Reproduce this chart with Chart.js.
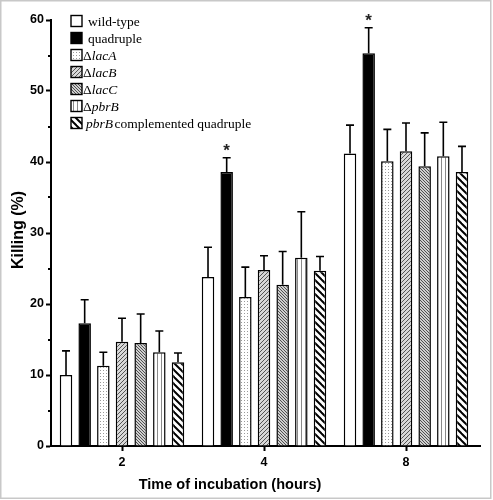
<!DOCTYPE html>
<html>
<head>
<meta charset="utf-8">
<script src="https://cdn.jsdelivr.net/npm/chart.js@4.4.1/dist/chart.umd.min.js"></script>
<style>
  html, body { margin: 0; padding: 0; background: #ffffff; }
  #wrap { position: relative; width: 493px; height: 500px; }
  canvas { display: block; }
</style>
</head>
<body>
<div id="wrap"><canvas id="c" width="493" height="500"></canvas></div>
<script>
// ---------- DATA ----------
const categories = ["2", "4", "8"];
const seriesNames = ["wild-type", "quadruple", "ΔlacA", "ΔlacB", "ΔlacC", "ΔpbrB", "pbrB complemented quadruple"];
const wildType      = [10.0, 23.8, 41.2];
const quadruple     = [17.3, 38.6, 55.3];
const lacA          = [11.3, 21.0, 40.1];
const lacB          = [14.7, 24.8, 41.5];
const lacC          = [14.5, 22.7, 39.4];
const pbrB          = [13.2, 26.5, 40.8];
const complemented  = [11.8, 24.7, 38.6];
const errWildType     = [3.4, 4.2, 4.0];
const errQuadruple    = [3.3, 2.0, 3.6];
const errLacA         = [1.9, 4.2, 4.5];
const errLacB         = [3.3, 2.0, 4.0];
const errLacC         = [4.1, 4.7, 4.7];
const errPbrB         = [3.0, 6.5, 4.8];
const errComplemented = [1.3, 2.0, 3.6];
const quadrupleMarks  = ["", "*", "*"];
const yTicks = [0, 10, 20, 30, 40, 50, 60];

// ---------- PATTERNS ----------
function tile(n, draw) {
  const c = document.createElement('canvas');
  c.width = n; c.height = n;
  const g = c.getContext('2d');
  g.fillStyle = '#ffffff'; g.fillRect(0, 0, n, n);
  draw(g, n);
  return document.getElementById('c').getContext('2d').createPattern(c, 'repeat');
}
function diag(g, n, dir, color, w) {
  g.strokeStyle = color; g.lineWidth = w;
  for (const off of [-n, 0, n]) {
    g.beginPath();
    if (dir === '\\') { g.moveTo(off - 1, -1); g.lineTo(off + n + 1, n + 1); }
    else { g.moveTo(off - 1, n + 1); g.lineTo(off + n + 1, -1); }
    g.stroke();
  }
}
const patDots = tile(3, (g) => { g.fillStyle = '#9a9a9a'; g.fillRect(1, 1, 1, 1); });
const patLacB = tile(4, (g, n) => { g.fillStyle = '#d8d8d8'; g.fillRect(0,0,n,n); diag(g, n, '/', '#555555', 1); });
const patLacC = tile(3, (g, n) => { g.fillStyle = '#cfcfcf'; g.fillRect(0,0,n,n); diag(g, n, '\\', '#505050', 1); });
const patPbrB = tile(4, (g) => { g.fillStyle = '#8a8a8a'; g.fillRect(1, 0, 1, 4); });
const patComp = tile(7, (g, n) => { diag(g, n, '\\', '#000000', 2); });

const fills = ['#ffffff', '#000000', patDots, patLacB, patLacC, patPbrB, patComp];
const values = [wildType, quadruple, lacA, lacB, lacC, pbrB, complemented];
const errors = [errWildType, errQuadruple, errLacA, errLacB, errLacC, errPbrB, errComplemented];

const datasets = values.map((v, i) => ({
  label: seriesNames[i],
  data: v,
  backgroundColor: fills[i],
  borderColor: '#000000',
  borderWidth: 1.5,
  categoryPercentage: 0.92,
  barPercentage: 0.67
}));

// ---------- PLUGINS ----------
const decor = {
  id: 'decor',
  beforeDraw(chart) {
    const ctx = chart.ctx;
    ctx.save();
    ctx.fillStyle = '#ffffff';
    ctx.fillRect(0, 0, chart.width, chart.height);
    ctx.strokeStyle = '#c8c8c8';
    ctx.lineWidth = 1.5;
    ctx.strokeRect(0.75, 0.75, 490, 497.5);
    ctx.restore();
  },
  afterDatasetsDraw(chart) {
    const ctx = chart.ctx;
    const y = chart.scales.y;
    ctx.save();
    ctx.strokeStyle = '#000000';
    ctx.lineWidth = 1.6;
    chart.data.datasets.forEach((ds, di) => {
      const meta = chart.getDatasetMeta(di);
      meta.data.forEach((bar, k) => {
        const top = y.getPixelForValue(values[di][k] + errors[di][k]);
        const base = y.getPixelForValue(values[di][k]);
        ctx.beginPath();
        ctx.moveTo(bar.x, base);
        ctx.lineTo(bar.x, top);
        ctx.moveTo(bar.x - 4, top);
        ctx.lineTo(bar.x + 4, top);
        ctx.stroke();
        if (di === 1 && quadrupleMarks[k]) {
          ctx.fillStyle = '#222222';
          ctx.font = 'bold 17px "Liberation Sans", Arial, sans-serif';
          ctx.textAlign = 'center';
          ctx.textBaseline = 'alphabetic';
          ctx.fillText(quadrupleMarks[k], bar.x, top - 2);
        }
      });
    });
    ctx.restore();
  },
  afterDraw(chart) {
    const ctx = chart.ctx;
    const a = chart.chartArea;
    const y = chart.scales.y;
    ctx.save();
    ctx.strokeStyle = '#000000';
    ctx.lineWidth = 2;
    for (let v = 5; v < 60; v += 10) {
      const py = Math.round(y.getPixelForValue(v));
      ctx.beginPath();
      ctx.moveTo(a.left, py);
      ctx.lineTo(a.left - 3, py);
      ctx.stroke();
    }
    ctx.beginPath();
    ctx.moveTo(a.right - 1, a.bottom);
    ctx.lineTo(481, a.bottom);
    ctx.stroke();
    ctx.fillStyle = '#000000';
    ctx.font = 'bold 14.5px "Liberation Sans", Arial, sans-serif';
    ctx.textAlign = 'center';
    ctx.textBaseline = 'middle';
    ctx.fillText('Time of incubation (hours)', 230, 485);
    ctx.save();
    ctx.translate(19, 230);
    ctx.rotate(-Math.PI / 2);
    ctx.font = 'bold 16px "Liberation Sans", Arial, sans-serif';
    ctx.fillText('Killing (%)', 0, 0);
    ctx.restore();
    const rows = [
      [['wild-type', false]],
      [['quadruple', false]],
      [['Δ', false], ['lacA', true]],
      [['Δ', false], ['lacB', true]],
      [['Δ', false], ['lacC', true]],
      [['Δ', false], ['pbrB', true]],
      [['pbrB', true], ['complemented quadruple', false]]
    ];
    rows.forEach((parts, i) => {
      const cy = 21 + 17 * i;
      const bx = 71, bw = 11;
      ctx.fillStyle = fills[i];
      ctx.fillRect(bx, cy - bw / 2, bw, bw);
      ctx.strokeStyle = '#000000';
      ctx.lineWidth = 1.4;
      ctx.strokeRect(bx, cy - bw / 2, bw, bw);
      let tx = (i < 2) ? 88 : (i === 6 ? 86 : 83);
      ctx.fillStyle = '#000000';
      ctx.textAlign = 'left';
      ctx.textBaseline = 'middle';
      parts.forEach(([t, it], j) => {
        ctx.font = (it ? 'italic ' : '') + '13.5px "Liberation Serif", "Times New Roman", serif';
        ctx.fillText(t, tx, cy + 1);
        tx += ctx.measureText(t).width + (i === 6 && j === 0 ? 1.5 : 0);
      });
    });
    ctx.restore();
  }
};

new Chart(document.getElementById('c'), {
  type: 'bar',
  data: { labels: categories, datasets },
  options: {
    responsive: false,
    animation: false,
    layout: { padding: { left: 0, top: 20, right: 16, bottom: 0 } },
    plugins: { legend: { display: false }, tooltip: { enabled: false } },
    scales: {
      x: {
        afterFit: (s) => { s.height = 54; },
        grid: { display: true, offset: false, drawOnChartArea: false, drawTicks: true, tickLength: 5, tickWidth: 2, tickColor: '#000000' },
        border: { display: true, color: '#000000', width: 2 },
        ticks: { color: '#000000', padding: 4, font: { family: '"Liberation Sans", Arial, sans-serif', size: 12.5, weight: 'bold' } }
      },
      y: {
        min: 0, max: 60,
        afterFit: (s) => { s.width = 51; },
        afterBuildTicks: (s) => { s.ticks = yTicks.map(v => ({ value: v })); },
        grid: { display: true, drawOnChartArea: false, drawTicks: true, tickLength: 5, tickWidth: 2, tickColor: '#000000' },
        border: { display: true, color: '#000000', width: 2 },
        ticks: { color: '#000000', padding: 2, font: { family: '"Liberation Sans", Arial, sans-serif', size: 12.5, weight: 'bold' } }
      }
    }
  },
  plugins: [decor]
});
</script>
</body>
</html>
